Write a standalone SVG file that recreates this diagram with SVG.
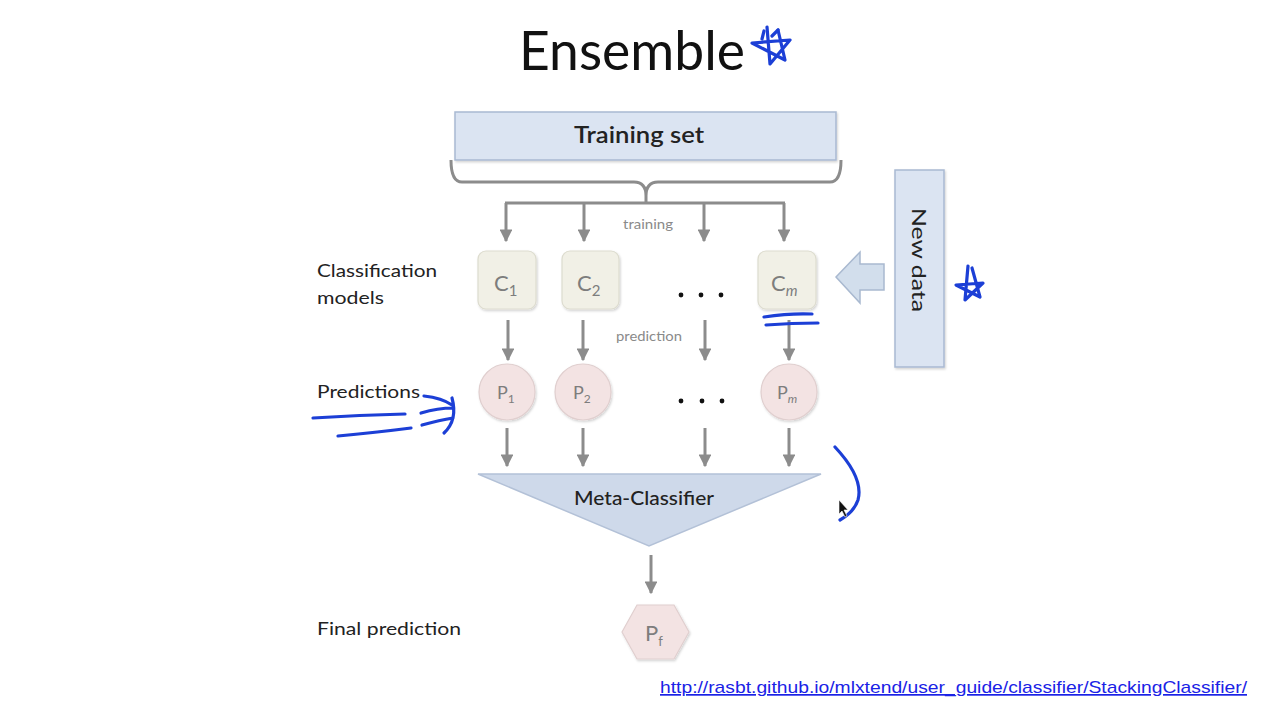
<svg xmlns="http://www.w3.org/2000/svg" width="1263" height="706" viewBox="0 0 1263 706">
  <style>
    .lbl { font-family: Lato, "Open Sans", "Liberation Sans", sans-serif; fill: #222; }
    .small { font-family: Lato, "Open Sans", "Liberation Sans", sans-serif; fill: #8a8a8a; font-size: 13px; }
    .sym { font-family: Lato, "Open Sans", "Liberation Sans", sans-serif; fill: #7d7d7d; }
    .conn { stroke: #8c8c8c; stroke-width: 3; fill: none; }
    .ink { stroke: #1c3fd6; stroke-width: 3.2; fill: none; stroke-linecap: round; stroke-linejoin: round; }
    .blue { fill: #dbe4f2; stroke: #a9b9d2; stroke-width: 1.5; }
    .cbox { fill: #f1f0e6; stroke: #dddccf; stroke-width: 1.2; }
    .pnode { fill: #f3e3e3; stroke: #e0cfcf; stroke-width: 1.2; }
  </style>
  <defs>
    <marker id="ah" viewBox="0 0 10 10" refX="9" refY="5" markerWidth="4.3" markerHeight="4.3" orient="auto">
      <path d="M0,0 L10,5 L0,10 z" fill="#8c8c8c"/>
    </marker>
    <filter id="sh" x="-20%" y="-20%" width="140%" height="140%">
      <feDropShadow dx="1" dy="1.5" stdDeviation="1.2" flood-color="#000" flood-opacity="0.18"/>
    </filter>
  </defs>

  <rect width="1263" height="706" fill="#ffffff"/>

  <!-- title -->
  <text x="519" y="70" font-family="Lato, 'Open Sans', 'Liberation Sans', sans-serif" font-size="54" fill="#111" textLength="226" lengthAdjust="spacingAndGlyphs">Ensemble</text>

  <!-- row labels -->
  <g id="row-labels">
    <text class="lbl" x="317" y="277" font-size="18" textLength="120" lengthAdjust="spacingAndGlyphs">Classification</text>
    <text class="lbl" x="317" y="304" font-size="18" textLength="67" lengthAdjust="spacingAndGlyphs">models</text>
    <text class="lbl" x="317" y="398" font-size="18" textLength="103" lengthAdjust="spacingAndGlyphs">Predictions</text>
    <text class="lbl" x="317" y="635" font-size="18" textLength="144" lengthAdjust="spacingAndGlyphs">Final prediction</text>
  </g>

  <!-- connectors -->
  <g id="connectors">
    <!-- brace under the training set -->
    <path class="conn" stroke-width="2.5" d="M451,160 Q451,182 462,182 L634,182 Q646,182 646,196 Q646,182 658,182 L830,182 Q841,182 841,160"/>
    <path class="conn" d="M646,196 L646,203 M505,203 L785,203"/>
    <line class="conn" x1="506" y1="203" x2="506" y2="241" marker-end="url(#ah)"/>
    <line class="conn" x1="584" y1="203" x2="584" y2="241" marker-end="url(#ah)"/>
    <line class="conn" x1="704" y1="203" x2="704" y2="241" marker-end="url(#ah)"/>
    <line class="conn" x1="784" y1="203" x2="784" y2="241" marker-end="url(#ah)"/>
    <!-- models to predictions -->
    <line class="conn" x1="508" y1="320" x2="508" y2="360" marker-end="url(#ah)"/>
    <line class="conn" x1="583" y1="320" x2="583" y2="360" marker-end="url(#ah)"/>
    <line class="conn" x1="705" y1="320" x2="705" y2="360" marker-end="url(#ah)"/>
    <line class="conn" x1="789" y1="320" x2="789" y2="360" marker-end="url(#ah)"/>
    <!-- predictions to meta-classifier -->
    <line class="conn" x1="507" y1="428" x2="507" y2="466" marker-end="url(#ah)"/>
    <line class="conn" x1="583" y1="428" x2="583" y2="466" marker-end="url(#ah)"/>
    <line class="conn" x1="705" y1="428" x2="705" y2="466" marker-end="url(#ah)"/>
    <line class="conn" x1="789" y1="428" x2="789" y2="466" marker-end="url(#ah)"/>
    <!-- meta-classifier to final prediction -->
    <line class="conn" x1="651" y1="555" x2="651" y2="593" marker-end="url(#ah)"/>
    <!-- new data block arrow -->
    <polygon points="836,277 860,252 860,264 884,264 884,290 860,290 860,303" fill="#d2deec" stroke="#a9b9d0" stroke-width="1.5"/>
    <text class="small" x="648" y="229" text-anchor="middle" textLength="50" lengthAdjust="spacingAndGlyphs">training</text>
    <text class="small" x="649" y="341" text-anchor="middle" textLength="66" lengthAdjust="spacingAndGlyphs">prediction</text>
  </g>

  <!-- training set -->
  <g id="training-set">
    <rect class="blue" x="455" y="112" width="381" height="48" filter="url(#sh)"/>
    <text class="lbl" x="639" y="143" font-size="22" font-weight="600" text-anchor="middle" textLength="130" lengthAdjust="spacingAndGlyphs">Training set</text>
  </g>

  <!-- classifiers -->
  <g id="c1">
    <rect class="cbox" x="478" y="251" width="58" height="58" rx="8" filter="url(#sh)"/>
    <text class="sym" x="494" y="291" font-size="22">C<tspan font-size="15" dy="5">1</tspan></text>
  </g>
  <g id="c2">
    <rect class="cbox" x="562" y="251" width="57" height="58" rx="8" filter="url(#sh)"/>
    <text class="sym" x="577" y="291" font-size="22">C<tspan font-size="15" dy="5">2</tspan></text>
  </g>
  <g id="c-dots">
    <circle cx="681" cy="295" r="2.4" fill="#111"/>
    <circle cx="701" cy="295" r="2.4" fill="#111"/>
    <circle cx="721" cy="295" r="2.4" fill="#111"/>
  </g>
  <g id="cm">
    <rect class="cbox" x="758" y="251" width="58" height="58" rx="8" filter="url(#sh)"/>
    <text class="sym" x="771" y="291" font-size="22">C<tspan font-size="15" font-style="italic" dy="5">m</tspan></text>
  </g>

  <!-- predictions -->
  <g id="p1">
    <circle class="pnode" cx="507" cy="392" r="28" filter="url(#sh)"/>
    <text class="sym" x="497" y="399" font-size="18">P<tspan font-size="12" dy="4">1</tspan></text>
  </g>
  <g id="p2">
    <circle class="pnode" cx="583" cy="392" r="28" filter="url(#sh)"/>
    <text class="sym" x="573" y="399" font-size="18">P<tspan font-size="12" dy="4">2</tspan></text>
  </g>
  <g id="p-dots">
    <circle cx="681" cy="401" r="2.4" fill="#111"/>
    <circle cx="702" cy="401" r="2.4" fill="#111"/>
    <circle cx="722" cy="401" r="2.4" fill="#111"/>
  </g>
  <g id="pm">
    <circle class="pnode" cx="789" cy="392" r="28" filter="url(#sh)"/>
    <text class="sym" x="777" y="399" font-size="18">P<tspan font-size="12" font-style="italic" dy="4">m</tspan></text>
  </g>

  <!-- meta-classifier -->
  <g id="meta-classifier">
    <polygon points="478,474 821,474 649,546" fill="#ced9ea" stroke="#b3c1d7" stroke-width="1.5"/>
    <text class="lbl" x="644" y="505" font-size="19" font-weight="500" text-anchor="middle" textLength="140" lengthAdjust="spacingAndGlyphs">Meta-Classifier</text>
  </g>

  <!-- final prediction -->
  <g id="pf">
    <polygon class="pnode" points="622,632 637,605 674,605 689,632 674,659 637,659" filter="url(#sh)"/>
    <text class="sym" x="645" y="641" font-size="22">P<tspan font-size="13" dy="5">f</tspan></text>
  </g>

  <!-- new data -->
  <g id="new-data">
    <rect class="blue" x="895" y="170" width="49" height="197" filter="url(#sh)"/>
    <text class="lbl" font-family="'Liberation Sans', Arial, sans-serif" font-size="20" text-anchor="middle" textLength="104" lengthAdjust="spacingAndGlyphs" transform="translate(912,260) rotate(90)">New data</text>
  </g>

  <!-- reference link -->
  <text x="660" y="693" font-family="'Liberation Sans', Arial, sans-serif" font-size="17" fill="#1a22e6" text-decoration="underline" textLength="587" lengthAdjust="spacingAndGlyphs">http://rasbt.github.io/mlxtend/user_guide/classifier/StackingClassifier/</text>

  <!-- pen annotations -->
  <g id="ink">
    <path class="ink" d="M767,27 L770,64 L790,40 L752,43 L785,60 L778,30"/>
    <path class="ink" d="M764,31 L762,39 M778,30 L772,36"/>
    <path class="ink" d="M968,266 L965,300 L983,283 L956,285 L980,297 L972,268"/>
    <path class="ink" d="M764,317 Q790,313 812,314"/>
    <path class="ink" d="M766,325 Q792,323 818,323"/>
    <path class="ink" d="M313,418 Q360,415 405,414"/>
    <path class="ink" d="M338,436 Q380,432 411,428"/>
    <path class="ink" d="M424,396 Q442,398 452,405 M421,413 Q438,408 453,408 M422,425 Q440,420 453,418 M452,398 Q458,420 444,433"/>
    <path class="ink" d="M835,447 Q864,478 858,500 Q854,512 840,520"/>
  </g>

  <!-- pointer -->
  <path d="M839,500 L839,514 L842,511 L845,517 L847,516 L844,510 L848,510 Z" fill="#111" stroke="#fff" stroke-width="0.6"/>
</svg>
